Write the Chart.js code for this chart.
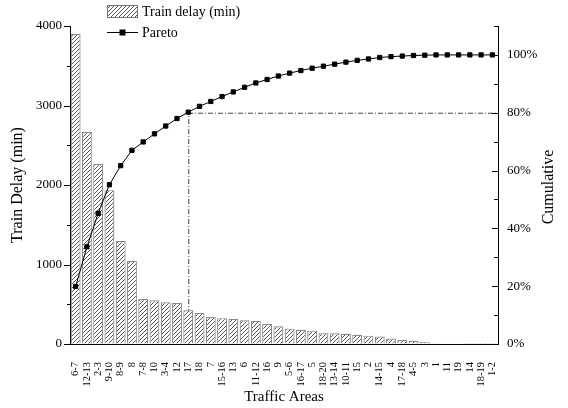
<!DOCTYPE html>
<html><head><meta charset="utf-8">
<script src="https://cdn.jsdelivr.net/npm/chart.js@4.4.0/dist/chart.umd.min.js"></script>
<style>html,body{margin:0;padding:0;background:#fff}#wrap{width:568px;height:408px}</style>
</head><body><div id="wrap"><canvas id="c" width="568" height="408"></canvas></div>
<script>
const areas = ['6-7','12-13','2-3','9-10','8-9','8','7-8','10','3-4','12','17','18','7','15-16','13','6','11-12','16','9','5-6','16-17','5','18-20','13-14','10-11','15','2','14-15','4','17-18','4-5','3','1','11','19','14','18-19','1-2'];
const delays = [3900,2670,2265,1935,1295,1045,565,550,525,515,425,390,340,325,318,298,293,252,222,193,180,168,134,134,128,115,105,95,70,50,40,24,8,6,2,1,1,1];
const paretoPct = [19.9,33.6,45.2,55.1,61.7,67.0,69.9,72.7,75.4,78.0,80.2,82.2,83.9,85.6,87.2,88.8,90.3,91.5,92.7,93.7,94.6,95.4,96.1,96.8,97.5,98.1,98.6,99.1,99.4,99.6,99.8,99.9,100,100,100,100,100,100];
const leftTicks = [0,500,1000,1500,2000,2500,3000,3500,4000];
const rightTicks = [0,10,20,30,40,50,60,70,80,90,100,110];
const cutoffArea = '17';
const cutoffPct = 80;
const legendLabels = ['Train delay (min)','Pareto'];
const rightTitle = 'Cumulative';

const SERIF = '"Liberation Serif", "DejaVu Serif", serif';

function hatch(){
  const c=document.createElement('canvas'); c.width=4; c.height=4;
  const g=c.getContext('2d');
  g.fillStyle='#fff'; g.fillRect(0,0,4,4);
  g.strokeStyle='#444'; g.lineWidth=0.9;
  g.beginPath();
  g.moveTo(0,4); g.lineTo(4,0);
  g.moveTo(-1,1); g.lineTo(1,-1);
  g.moveTo(3,5); g.lineTo(5,3);
  g.stroke();
  return g.createPattern(c,'repeat');
}
const pat = hatch();

const extras = {
  id:'extras',
  beforeDatasetsDraw(chart){
    const {ctx, scales:{x,y2}, chartArea} = chart;
    const px = x.getPixelForValue(areas.indexOf(cutoffArea));
    const py = y2.getPixelForValue(cutoffPct);
    ctx.save();
    ctx.strokeStyle='#444'; ctx.lineWidth=1; ctx.setLineDash([5,2,1,2]);
    ctx.beginPath();
    ctx.moveTo(px+0.5, y2.getPixelForValue(0));
    ctx.lineTo(px+0.5, py+0.5);
    ctx.lineTo(chartArea.right, py+0.5);
    ctx.stroke();
    ctx.restore();
  },
  afterDraw(chart){
    const ctx = chart.ctx;
    const ca = chart.chartArea;
    const {y, y2} = chart.scales;
    ctx.save();
    // axis ticks: left outward, right inward
    ctx.strokeStyle='#000'; ctx.lineWidth=1;
    ctx.beginPath();
    leftTicks.forEach(v=>{
      const py = Math.round(y.getPixelForValue(v))+0.5;
      const len = v%1000===0 ? 6 : 3;
      ctx.moveTo(ca.left-len, py); ctx.lineTo(ca.left, py);
    });
    rightTicks.forEach(v=>{
      const py = Math.round(y2.getPixelForValue(v))+0.5;
      const len = v%20===0 ? 6 : 4;
      ctx.moveTo(ca.right-len, py); ctx.lineTo(ca.right, py);
    });
    ctx.stroke();
    // bar legend
    ctx.fillStyle = pat;
    ctx.fillRect(107,5,31,13);
    ctx.strokeStyle='#777'; ctx.lineWidth=1;
    ctx.strokeRect(107.5,5.5,30,12);
    ctx.fillStyle='#000';
    ctx.font = '14px ' + SERIF;
    ctx.textBaseline='middle'; ctx.textAlign='left';
    ctx.fillText(legendLabels[0],142,12);
    // line legend
    ctx.strokeStyle='#000'; ctx.beginPath();
    ctx.moveTo(107,32.5); ctx.lineTo(138,32.5); ctx.stroke();
    ctx.fillRect(119.5,29.5,6,6);
    ctx.fillText(legendLabels[1],142,33);
    // right axis title, reading bottom to top
    ctx.translate(549,(ca.top+ca.bottom)/2+2);
    ctx.rotate(-Math.PI/2);
    ctx.textAlign='center';
    ctx.font = '16px ' + SERIF;
    ctx.fillText(rightTitle,0,0);
    ctx.restore();
  }
};

new Chart(document.getElementById('c'), {
  data: {
    labels: areas,
    datasets: [
      {type:'line', label:legendLabels[1], data:paretoPct, yAxisID:'y2', order:1,
       borderColor:'#000', borderWidth:1, pointStyle:'rect', pointRadius:3,
       pointBackgroundColor:'#000', pointBorderColor:'#000', tension:0},
      {type:'bar', label:legendLabels[0], data:delays, yAxisID:'y', order:2,
       backgroundColor:pat, borderColor:'#8a8a8a', borderWidth:1.2,
       barPercentage:0.88, categoryPercentage:1}
    ]
  },
  options: {
    responsive:false, animation:false, devicePixelRatio:1,
    layout:{padding:{top:26,left:0,right:0,bottom:0}},
    plugins:{legend:{display:false}, tooltip:{enabled:false}},
    scales:{
      x:{type:'category', offset:true,
        grid:{display:false},
        border:{display:true,color:'#000',width:1},
        ticks:{autoSkip:false,maxRotation:90,minRotation:90,padding:10,color:'#000',font:{family:SERIF,size:10.5}},
        title:{display:true,text:'Traffic Areas',color:'#000',font:{family:SERIF,size:15},padding:{top:0,bottom:2}},
        afterFit(s){s.height=64;}
      },
      y:{position:'left', min:0, max:4000,
        grid:{display:true,drawOnChartArea:false,drawTicks:false},
        border:{display:true,color:'#000',width:1},
        ticks:{stepSize:1000,padding:8,color:'#000',font:{family:SERIF,size:13},
          callback:v=> String(v)},
        title:{display:true,text:'Train Delay (min)',color:'#000',font:{family:SERIF,size:16},padding:{top:8,bottom:0}},
        afterFit(s){s.width=70;}
      },
      y2:{position:'right', min:0, max:110,
        grid:{display:true,drawOnChartArea:false,drawTicks:false},
        border:{display:true,color:'#000',width:1},
        ticks:{stepSize:20,padding:9,color:'#000',font:{family:SERIF,size:13},
          callback:v=> v<=100 ? v+'%' : ''},
        title:{display:false},
        afterFit(s){s.width=70;}
      }
    }
  },
  plugins:[extras]
});
</script></body></html>
